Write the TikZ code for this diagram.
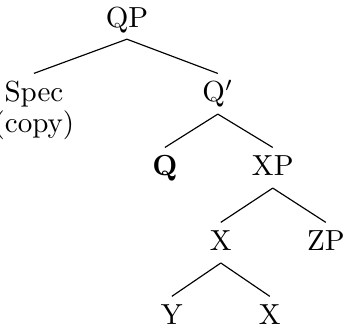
\documentclass[tikz,border=0pt]{standalone}
\usepackage{amsmath, amssymb}
\usepackage{tikz}

\begin{document}
\begin{tikzpicture}[
    word/.style={inner sep=0pt, text height=9.6pt, text depth=4pt, anchor=base},
    branch/.style={draw, line width=0.4pt}
]
    \useasboundingbox (0,0) rectangle (4.19,-4.04);

    % Top
    \node[word] (qp) at (1.537,-0.327) {QP};

    % Second level
    \node[word, align=center, text height=20.3pt] (spec) at (0.411,-1.609) {Spec\\[-1.3pt](copy)};
    \node[word] (qbar) at (2.638,-1.234) {Q$'$};

    % Third level
    \node[word] (q) at (1.997,-2.130) {\textbf{Q}};
    \node[word] (xp) at (3.303,-2.130) {XP};

    % Fourth level
    \node[word] (x) at (2.674,-3.037) {X};
    \node[word] (zp) at (3.945,-3.037) {ZP};

    % Bottom
    \node[word] (y) at (2.081,-3.933) {Y};
    \node[word] (xlow) at (3.267,-3.933) {X};

    \draw[branch] (qp.south) -- (spec.north);
    \draw[branch] (qp.south) -- (qbar.north);
    \draw[branch] (qbar.south) -- (q.north);
    \draw[branch] (qbar.south) -- (xp.north);
    \draw[branch] (xp.south) -- (x.north);
    \draw[branch] (xp.south) -- (zp.north);
    \draw[branch] (x.south) -- (y.north);
    \draw[branch] (x.south) -- (xlow.north);

\end{tikzpicture}
\end{document}
